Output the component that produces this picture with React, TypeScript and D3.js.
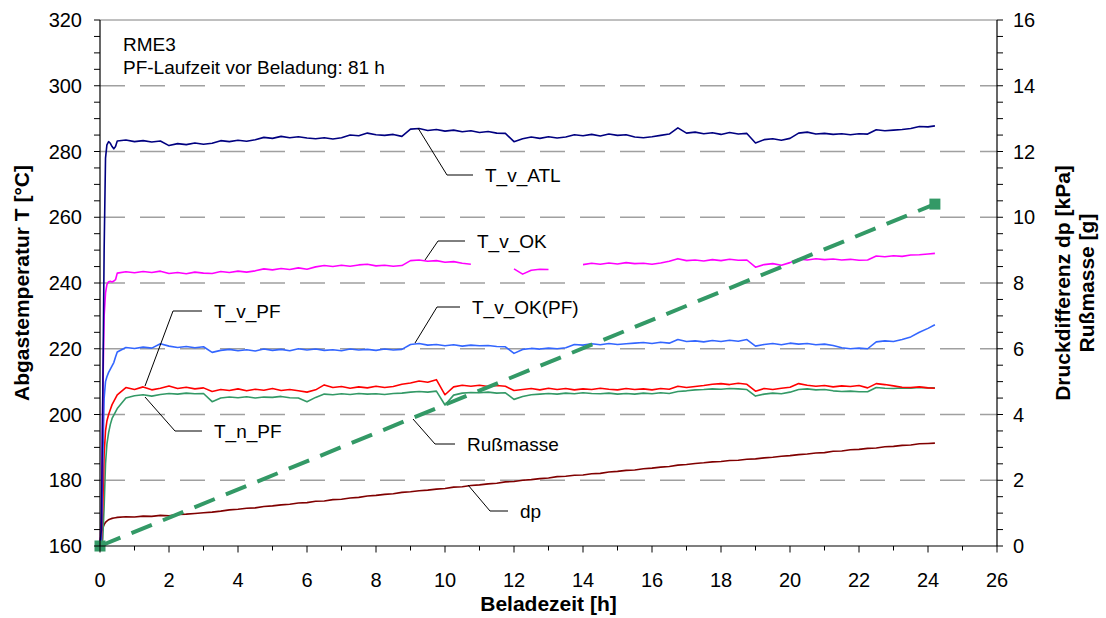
import React from "react";
import * as d3 from "d3";

// ---- data ----
const startHours = [0, 0.04, 0.08, 0.12, 0.16, 0.2, 0.25, 0.3, 0.35, 0.4, 0.45];
const hours = [0.5, 0.75,
  1, 1.25, 1.5, 1.75, 2, 2.25, 2.5, 2.75, 3, 3.25, 3.5, 3.75, 4, 4.25, 4.5, 4.75,
  5, 5.25, 5.5, 5.75, 6, 6.25, 6.5, 6.75, 7, 7.25, 7.5, 7.75, 8, 8.25, 8.5, 8.75,
  9, 9.25, 9.5, 9.75, 10, 10.25, 10.5, 10.75, 11, 11.25, 11.5, 11.75, 12, 12.25, 12.5, 12.75,
  13, 13.25, 13.5, 13.75, 14, 14.25, 14.5, 14.75, 15, 15.25, 15.5, 15.75, 16, 16.25, 16.5, 16.75,
  17, 17.25, 17.5, 17.75, 18, 18.25, 18.5, 18.75, 19, 19.25, 19.5, 19.75, 20, 20.25, 20.5, 20.75,
  21, 21.25, 21.5, 21.75, 22, 22.25, 22.5, 22.75, 23, 23.25, 23.5, 23.75, 24, 24.2];

const atlStart = [160, 165, 205, 250, 278, 282, 283, 282.5, 281.5, 280.8, 281.5];
const atl = [283.2, 283.5,
  283.0, 283.3, 282.9, 283.2, 281.8, 282.4, 282.1, 282.6, 282.2, 282.5, 283.3, 283.0,
  283.4, 283.1, 283.6, 284.3, 284.0, 284.6, 284.2, 284.5, 284.1, 283.9, 284.2, 283.8,
  284.2, 285.0, 284.8, 285.6, 285.1, 284.9, 285.2, 284.6, 286.8, 287.0, 286.4, 286.7,
  286.2, 286.5, 286.0, 286.3, 285.8, 286.1, 285.6, 285.5, 283.0, 283.9, 284.4, 284.0,
  284.5, 284.1, 284.4, 285.1, 284.8, 285.2, 284.7, 285.3, 284.9, 285.1, 284.4, 284.2,
  284.5, 284.9, 285.3, 287.2, 285.6, 285.9, 285.4, 285.7, 285.2, 285.8, 285.3, 285.5,
  282.6, 283.6, 283.9, 283.4, 284.0, 285.6, 285.9, 285.3, 285.5, 285.2, 285.4, 285.1,
  285.4, 285.3, 286.6, 286.3, 286.5, 286.7, 287.0, 287.6, 287.5, 287.8];

const okStart = [160, 170, 205, 230, 237, 239.5, 240.4, 240.5, 240.3, 240.6, 241];
const ok = [243.0, 243.4,
  243.1, 243.5, 243.2, 243.6, 242.9, 243.2, 242.8, 243.3, 243.0, 242.9, 243.5, 243.2,
  243.6, 243.3, 243.7, 244.3, 244.0, 244.4, 244.1, 244.6, 244.2, 244.9, 245.3, 245.0,
  245.4, 245.1, 245.5, 245.7, 245.2, 245.4, 245.1, 245.3, 246.8, 247.0, 246.6, 246.8,
  246.3, 246.5, 246.0, 245.7, null, null, null, null, 244.3, 242.7, 243.9, 244.2,
  244.1, null, null, null, 245.6, 246.0, 245.7, 246.1, 245.8, 246.2, 245.9, 246.0,
  245.7, 246.1, 246.6, 247.4, 246.8, 247.0, 246.7, 247.1, 246.8, 247.2, 246.9, 247.0,
  244.8, 245.6, 245.9, 245.4, 246.2, 247.3, 247.0, 247.4, 247.1, 247.3, 247.0, 247.2,
  246.9, 247.0, 248.2, 248.0, 248.3, 248.1, 248.5, 248.6, 248.8, 249.0];

const okpfStart = [160, 162, 185, 205, 210, 211.5, 212.8, 213.8, 214.8, 215.8, 217.5];
const okpf = [219.0, 220.4,
  220.1, 220.5, 220.2, 221.5, 220.8, 220.4, 220.7, 220.3, 220.6, 218.9, 219.5, 219.8,
  219.4, 219.7, 219.3, 219.9, 219.5, 219.8, 219.4, 220.0, 219.6, 219.9, 219.5, 219.7,
  219.4, 219.9, 219.6, 219.8, 219.5, 219.9, 219.6, 219.8, 221.3, 221.6, 221.1, 221.3,
  220.9, 221.2, 220.8, 221.1, 220.9, 221.0, 220.7, 220.6, 218.6, 219.8, 220.1, 219.9,
  220.2, 220.0, 220.3, 221.3, 221.1, 221.5, 221.2, 221.6, 221.3, 221.5, 221.7, 221.9,
  221.6, 222.0, 221.7, 222.8, 222.2, 222.4, 222.1, 222.5, 222.2, 222.6, 222.3, 222.8,
  220.8, 221.3, 221.6, 221.2, 221.7, 221.4, 221.6, 221.2, 221.4, 221.0, 220.3, 220.0,
  220.2, 220.0, 222.1, 222.4, 222.2, 222.8, 223.6, 225.0, 226.2, 227.3];

const vpfStart = [160, 160, 172, 188, 195, 198, 200, 201.5, 203, 204, 205];
const vpf = [206.0, 208.2,
  207.6, 208.4, 207.5, 208.0, 208.7, 207.9, 208.3, 207.8, 208.1, 207.0, 207.6, 207.3,
  207.8, 207.2, 207.7, 207.4, 207.9, 207.3, 207.6, 207.2, 206.8, 207.5, 209.0, 208.2,
  208.5, 208.0, 208.4, 208.1, 208.6, 208.2, 208.5, 209.2, 209.6, 210.2, 209.8, 210.6,
  206.0, 208.4, 208.9, 208.6, 208.9, 208.5, 208.8, 208.6, 207.3, 207.6, 207.9, 207.5,
  208.0, 207.6, 207.9, 207.5, 207.8, 207.6, 208.0, 207.7, 207.5, 207.9, 207.6, 207.8,
  207.5, 207.9, 207.7, 208.6, 208.2, 208.5, 208.8, 209.2, 209.4, 209.1, 209.5, 209.2,
  207.1, 207.9, 207.6, 208.0, 208.3, 209.4, 208.9, 208.6, 208.8, 208.4, 208.7, 208.5,
  208.8, 208.1, 209.4, 209.1, 208.7, 208.3, 208.2, 208.4, 208.1, 208.0];

const npfStart = [160, 160, 162, 172, 185, 191, 194.5, 197, 198.8, 199.8, 200.8];
const npf = [201.8, 205.0,
  205.7, 206.0, 205.6, 206.1, 206.4, 206.2, 206.5, 206.3, 206.4, 203.9, 205.0, 205.3,
  205.1, 205.4, 205.0, 205.3, 205.2, 205.5, 205.1, 205.0, 203.9, 205.2, 206.2, 206.0,
  206.3, 206.1, 206.4, 206.2, 206.3, 206.1, 206.4, 206.5, 206.8, 207.0, 206.8, 207.1,
  202.9, 205.9, 206.5, 206.7, 206.6, 206.8, 206.5, 206.6, 204.6, 205.5, 206.0, 206.2,
  206.4, 206.2, 206.5, 206.3, 206.6, 206.4, 206.3, 206.5, 206.2, 206.4, 206.2, 206.5,
  206.3, 206.6, 206.4, 207.0, 207.2, 207.5, 207.6, 207.8, 207.7, 207.9, 207.8, 207.6,
  205.6, 206.2, 206.5, 206.3, 206.8, 207.6, 207.8, 207.5, 207.6, 207.2, 207.0, 207.1,
  206.9, 206.9, 208.2, 208.0, 207.9, 208.1, 208.0, 208.2, 208.1, 208.1];

const dpStart = [0.05, 0.45, 0.55, 0.65, 0.72, 0.76, 0.8, 0.82, 0.84, 0.85, 0.86];
const dp = [0.87, 0.89,
  0.88, 0.91, 0.90, 0.93, 0.92, 0.96, 0.97, 0.99, 1.01, 1.03, 1.06, 1.10,
  1.12, 1.15, 1.16, 1.20, 1.22, 1.25, 1.27, 1.31, 1.32, 1.36, 1.37, 1.41,
  1.42, 1.46, 1.48, 1.52, 1.54, 1.57, 1.59, 1.63, 1.65, 1.68, 1.70, 1.73,
  1.75, 1.79, 1.80, 1.84, 1.86, 1.89, 1.91, 1.95, 1.96, 2.00, 2.02, 2.05,
  2.07, 2.11, 2.12, 2.15, 2.16, 2.20, 2.21, 2.25, 2.27, 2.30, 2.31, 2.35,
  2.37, 2.40, 2.42, 2.46, 2.48, 2.51, 2.53, 2.56, 2.57, 2.60, 2.61, 2.64,
  2.65, 2.68, 2.70, 2.73, 2.75, 2.78, 2.80, 2.83, 2.84, 2.88, 2.89, 2.93,
  2.94, 2.97, 2.98, 3.02, 3.03, 3.06, 3.07, 3.11, 3.12, 3.13];

const russHours = [0, 24.2];
const russMass = [0, 10.4];

const xTicks = [0, 2, 4, 6, 8, 10, 12, 14, 16, 18, 20, 22, 24, 26];
const yLeftTicks = [160, 180, 200, 220, 240, 260, 280, 300, 320];
const yRightTicks = [0, 2, 4, 6, 8, 10, 12, 14, 16];

// ---- layout ----
const W = 1106, H = 618;
const L = 100, R = 997, T = 20, B = 546;
const FONT = "'Liberation Sans', Arial, Helvetica, sans-serif";

const x = d3.scaleLinear().domain([0, 26]).range([L, R]);
const yL = d3.scaleLinear().domain([160, 320]).range([B, T]);
const yR = d3.scaleLinear().domain([0, 16]).range([B, T]);

type P = [number, number | null];
function pts(sh: number[], sv: number[], h: number[], v: (number | null)[]): P[] {
  const out: P[] = [];
  sh.forEach((t, i) => out.push([t, sv[i]]));
  h.forEach((t, i) => out.push([t, v[i]]));
  return out;
}

const lineL = d3.line<P>().defined(d => d[1] != null).x(d => x(d[0])).y(d => yL(d[1] as number));
const lineR = d3.line<P>().defined(d => d[1] != null).x(d => x(d[0])).y(d => yR(d[1] as number));

const tempSeries = [
  { name: "T_n_PF", color: "#339966", data: pts(startHours, npfStart, hours, npf) },
  { name: "T_v_PF", color: "#ff0000", data: pts(startHours, vpfStart, hours, vpf) },
  { name: "T_v_OK(PF)", color: "#3366ff", data: pts(startHours, okpfStart, hours, okpf) },
  { name: "T_v_OK", color: "#ff00ff", data: pts(startHours, okStart, hours, ok) },
  { name: "T_v_ATL", color: "#000080", data: pts(startHours, atlStart, hours, atl) },
];
const dpData = pts(startHours, dpStart, hours, dp);
const russData: P[] = russHours.map((t, i) => [t, russMass[i]]);

// annotation leader lines (pixel layout)
const notes = [
  { text: "T_v_ATL", pts: [[418, 128], [447, 175], [473, 175]] },
  { text: "T_v_OK", pts: [[425, 260], [438, 241], [465, 241]] },
  { text: "T_v_OK(PF)", pts: [[415, 343], [437, 307], [460, 307]] },
  { text: "T_v_PF", pts: [[145, 386], [173, 311], [202, 311]] },
  { text: "T_n_PF", pts: [[145, 397], [175, 431], [202, 431]] },
  { text: "Rußmasse", pts: [[413, 419], [435, 444], [455, 444]] },
  { text: "dp", pts: [[468, 485], [490, 511], [508, 511]] },
];

export default function App() {
  const gridVals = yLeftTicks.filter(v => v > 160 && v < 320);
  const leftMinor = d3.range(160, 320.1, 5);
  const rightMinor = d3.range(0, 16.01, 0.5);
  const xMinor = d3.range(0, 26.01, 1);
  return (
    <svg width={W} height={H} style={{ position: "absolute", left: 0, top: 0, background: "#fff" }}
      fontFamily={FONT}>
      <rect x={0} y={0} width={W} height={H} fill="#fff" />
      {/* grid */}
      {gridVals.map(v => (
        <line key={"g" + v} x1={L} x2={R} y1={yL(v)} y2={yL(v)} stroke="#a0a0a0"
          strokeWidth={1.5} strokeDasharray="25 15" />
      ))}
      {/* top border */}
      <line x1={L} x2={R} y1={T} y2={T} stroke="#808080" strokeWidth={1} />

      {/* series */}
      <path d={lineR(dpData) || ""} fill="none" stroke="#800000" strokeWidth={1.6} />
      {tempSeries.map(s => (
        <path key={s.name} d={lineL(s.data) || ""} fill="none" stroke={s.color} strokeWidth={1.6}
          strokeLinejoin="round" />
      ))}
      <path d={lineR(russData) || ""} fill="none" stroke="#339966" strokeWidth={4}
        strokeDasharray="22 12" />
      {russData.map((d, i) => (
        <rect key={"m" + i} x={x(d[0]) - 5.5} y={yR(d[1] as number) - 5.5} width={11} height={11}
          fill="#339966" />
      ))}

      {/* axes */}
      <line x1={L} x2={L} y1={T} y2={B} stroke="#000" strokeWidth={1.2} />
      <line x1={R} x2={R} y1={T} y2={B} stroke="#000" strokeWidth={1.2} />
      <line x1={L} x2={R} y1={B} y2={B} stroke="#000" strokeWidth={1.2} />
      {leftMinor.map(v => (
        <line key={"lt" + v} x1={L - 6} x2={L} y1={yL(v)} y2={yL(v)} stroke="#000" strokeWidth={1} />
      ))}
      {rightMinor.map(v => (
        <line key={"rt" + v} x1={R} x2={R + 6} y1={yR(v)} y2={yR(v)} stroke="#000" strokeWidth={1} />
      ))}
      {xMinor.map(v => (
        <line key={"xt" + v} x1={x(v)} x2={x(v)} y1={B} y2={B + (v % 2 === 0 ? 6.5 : 4.5)}
          stroke="#000" strokeWidth={1} />
      ))}
      {yLeftTicks.map(v => (
        <text key={"yl" + v} x={L - 18} y={yL(v)} dy="0.35em" textAnchor="end" fontSize={20}>{v}</text>
      ))}
      {yRightTicks.map(v => (
        <text key={"yr" + v} x={R + 16} y={yR(v)} dy="0.35em" textAnchor="start" fontSize={20}>{v}</text>
      ))}
      {xTicks.map(v => (
        <text key={"xl" + v} x={x(v)} y={587} textAnchor="middle" fontSize={20}>{v}</text>
      ))}

      {/* titles */}
      <text x={(L + R) / 2} y={611} textAnchor="middle" fontSize={21} fontWeight="bold">Beladezeit [h]</text>
      <text transform={`translate(29,${(T + B) / 2}) rotate(-90)`} textAnchor="middle" fontSize={21}
        fontWeight="bold">Abgastemperatur T [°C]</text>
      <text transform={`translate(1070,${(T + B) / 2}) rotate(-90)`} textAnchor="middle" fontSize={21}
        fontWeight="bold">Druckdifferenz dp [kPa]</text>
      <text transform={`translate(1094,${(T + B) / 2}) rotate(-90)`} textAnchor="middle" fontSize={21}
        fontWeight="bold">Rußmasse [g]</text>

      {/* info text */}
      <text x={123} y={51} fontSize={19}>RME3</text>
      <text x={123} y={74} fontSize={19}>PF-Laufzeit vor Beladung: 81 h</text>

      {/* annotations */}
      {notes.map(n => {
        const last = n.pts[n.pts.length - 1];
        return (
          <g key={n.text}>
            <polyline points={n.pts.map(p => p.join(",")).join(" ")} fill="none" stroke="#000"
              strokeWidth={1} />
            <text x={last[0] + 12} y={last[1]} dy="0.35em" fontSize={19}>{n.text}</text>
          </g>
        );
      })}
    </svg>
  );
}
